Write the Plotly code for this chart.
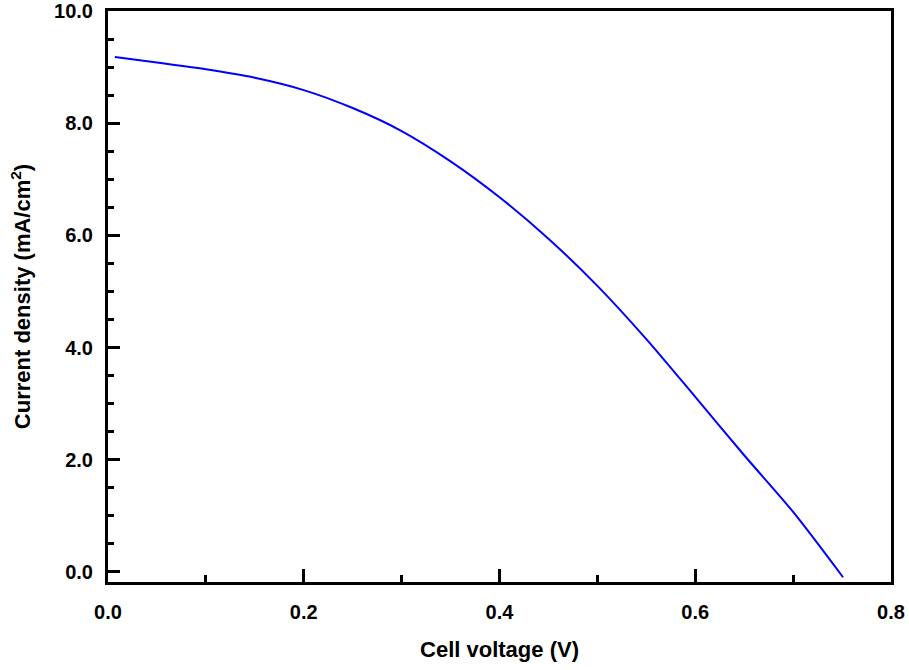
import plotly.graph_objects as go

# J-V curve of the cell
voltage = [0.007, 0.05, 0.10, 0.15, 0.20, 0.25, 0.30, 0.35, 0.40, 0.45,
           0.50, 0.55, 0.60, 0.65, 0.70, 0.751]
current_density = [9.18, 9.08, 8.96, 8.81, 8.59, 8.27, 7.86, 7.32, 6.68, 5.94,
                   5.10, 4.15, 3.12, 2.08, 1.07, -0.095]

font_family = "Liberation Sans, Arial, Helvetica, sans-serif"
tick_font = dict(family=font_family, size=20, color="black", weight="bold")
title_font = dict(family=font_family, size=22, color="black", weight="bold")

fig = go.Figure()
fig.add_trace(go.Scatter(
    x=voltage, y=current_density, mode="lines",
    line=dict(color="#0000FF", width=2, shape="spline", smoothing=0.8),
    showlegend=False,
))

axis_common = dict(
    showgrid=False, zeroline=False, automargin=False,
    showline=True, linecolor="black", linewidth=3, mirror=True,
    ticks="inside", tickcolor="black", tickwidth=3,
    tickformat=".1f", tickfont=tick_font,
)

fig.update_xaxes(
    range=[0, 0.8], dtick=0.2, tick0=0, ticklen=13,
    minor=dict(dtick=0.1, ticks="inside", ticklen=7, tickwidth=3, tickcolor="black"),
    ticklabelstandoff=10,
    title=dict(text="Cell voltage (V)", standoff=20, font=title_font),
    **axis_common,
)
fig.update_yaxes(
    range=[-0.18, 10.0], dtick=2, tick0=0, ticklen=12,
    minor=dict(dtick=0.5, ticks="inside", ticklen=6, tickwidth=3, tickcolor="black"),
    ticklabelstandoff=8,
    title=dict(text="Current density (mA/cm<sup>2</sup>)", standoff=18, font=title_font),
    **axis_common,
)

fig.update_layout(
    width=909, height=670,
    margin=dict(l=108, r=18, t=11, b=88),
    paper_bgcolor="white", plot_bgcolor="white",
    font=dict(family=font_family, color="black"),
)

fig.write_html("out.html")
